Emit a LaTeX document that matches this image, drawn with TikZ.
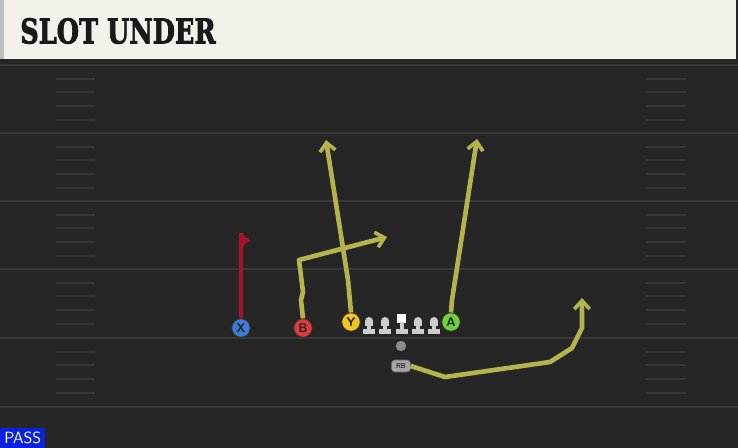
\documentclass[tikz,border=0pt]{standalone}
\usepackage{graphicx}
\usepackage{fontspec}
\newfontfamily\titlefont{DejaVu Serif}[BoldFeatures={FakeBold=2.5}]
\usetikzlibrary{arrows.meta,positioning}
\definecolor{fieldbg}{HTML}{262626}
\definecolor{headbg}{HTML}{F3F1EA}
\definecolor{yardcol}{HTML}{383838}
\definecolor{hashcol}{HTML}{353535}
\definecolor{routecol}{HTML}{B6B34C}
\definecolor{xroutecol}{HTML}{A8132B}
\definecolor{xblue}{HTML}{3F7BD6}
\definecolor{bred}{HTML}{E0393F}
\definecolor{yyellow}{HTML}{F2C51C}
\definecolor{agreen}{HTML}{6CD33B}
\definecolor{linecol}{HTML}{CDCDCD}
\definecolor{passblue}{HTML}{0A22DC}
\tikzset{
  yardline/.style={draw=yardcol, line width=1.4pt},
  hashline/.style={draw=hashcol, line width=1.3pt},
  player/.style={circle, draw=black!80, line width=0.5pt, minimum size=0.46cm, inner sep=0pt,
    font=\fontsize{9}{9}\selectfont\bfseries\sffamily, text=black!85},
  route/.style={draw=routecol, line width=3.3pt, line join=round,
    -{Straight Barb[length=6pt,width=11pt,line width=2.6pt]}},
  xroute/.style={draw=xroutecol, line width=2.4pt},
  lineman/.style={fill=linecol},
}
\begin{document}
\begin{tikzpicture}[x=0.025cm,y=-0.025cm]
\useasboundingbox (0,0) rectangle (738,448);
% field
\fill[fieldbg] (0,0) rectangle (738,448);
\fill[black!85] (0,58) rectangle (738,65);
\foreach \yl in {65,133,201,269,338,407}
  \draw[yardline] (0,\yl) -- (738,\yl);
\foreach \yl in {65,133,201,269,338}
  \foreach \d in {14,27,41,55} {
    \draw[hashline] (56,{\yl+\d}) -- (95,{\yl+\d});
    \draw[hashline] (646,{\yl+\d}) -- (686,{\yl+\d});
  }

% header
\fill[headbg] (0,0) rectangle (736,59);
\fill[black!25] (0,0) rectangle (4,59);
\node[anchor=west, text=black!90, inner sep=0pt] (title) at (20,31)
  {\resizebox{139pt}{18pt}{\titlefont\bfseries SLOT UNDER}};

% line
\foreach \lx in {369,385,418,434} {
  \fill[lineman] (\lx,321) circle (4);
  \fill[lineman] (\lx-4,321) rectangle (\lx+4,326);
  \fill[lineman] (\lx-2,325) rectangle (\lx+2,330);
  \fill[lineman] (\lx-6,329) rectangle (\lx+6,334);
}
\fill[white] (397,314) rectangle (406,323);
\fill[lineman] (399.5,322) rectangle (403.5,330);
\fill[lineman] (395.5,329) rectangle (407.5,334);
\node[circle, fill=black!45, minimum size=0.26cm, inner sep=0pt] (ball) at (401,346) {};

% players
\node[player, fill=xblue] (X) at (241,328) {X};
\node[player, fill=bred] (B) at (303,328) {B};
\node[player, fill=yyellow] (Y) at (351,322) {Y};
\node[player, fill=agreen] (A) at (451,322) {A};
\node[rounded corners=2.5pt, fill=black!35, draw=black!60, line width=0.4pt, minimum width=0.48cm,
  minimum height=0.3cm, inner sep=0pt, font=\fontsize{5}{5}\selectfont\sffamily] (RB) at (401,366) {RB};

% routes
\coordinate (xtop) at (241,233);
\draw[xroute] (X.north) -- (xtop);
\fill[xroutecol] (xtop) -- (251,241) -- (246,243) -- (243,247) -- (240,247) -- cycle;
\draw[route] (Y.north) -- (348,280) -- (326,140);
\draw[route] (B.north) -- (301,300) -- (303,292) -- (299,260) -- (387,237);
\draw[route] (A.north) -- (452,300) -- (477,139);
\draw[route] (RB.east) -- (445,377) -- (550,362) -- (572,348) -- (582,328) -- (582,298);

% play type
\node[fill=passblue, anchor=south west, minimum width=1.12cm, minimum height=0.5cm, inner sep=0pt,
  text=white, font=\fontsize{11.5}{11.5}\selectfont\sffamily] (pass) at (0,448) {PASS};
\end{tikzpicture}
\end{document}
